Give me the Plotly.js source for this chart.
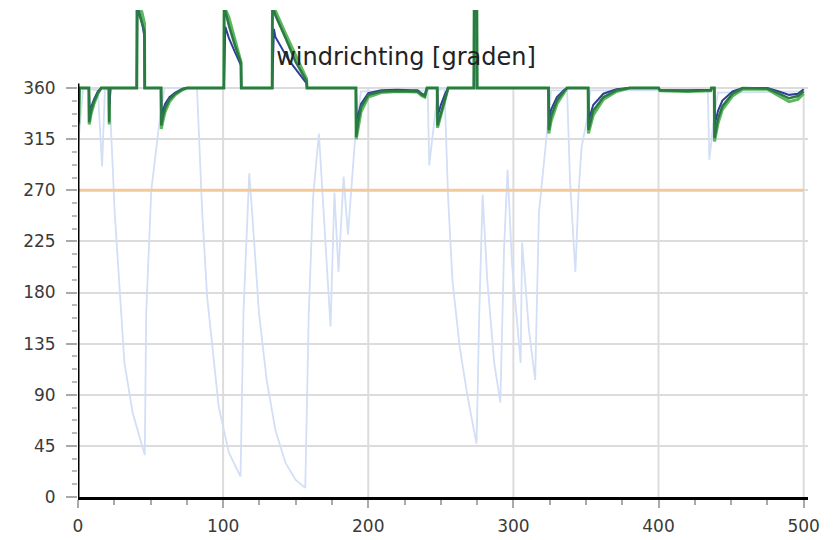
<!DOCTYPE html>
<html>
<head>
<meta charset="utf-8">
<script src="https://cdn.plot.ly/plotly-3.0.1.min.js"></script>
<style>html,body{margin:0;padding:0;background:#fff;}#chart{width:833px;height:540px;}</style>
</head>
<body>
<div id="chart"></div>
<script>
// ---- data ----
const chartTitle = "windrichting [graden]";
const xTickVals = [0, 100, 200, 300, 400, 500];
const xTickText = ["0", "100", "200", "300", "400", "500"];
const yTickVals = [0, 45, 90, 135, 180, 225, 270, 315, 360];
const yTickText = ["0", "45", "90", "135", "180", "225", "270", "315", "360"];
const referenceLevel = 270;
const xStart = 0, xEnd = 500;

// raw wind direction (light blue)
const rawX = [0,3.5,13.7,16.6,18.5,21.5,25.3,28.8,32,37.7,46,47,50.5,56,59.6,82,85.6,89,92.5,97,104,112,114,118,120,124.7,130,136,143,150,156.6,159,162,166,170,174,176.7,179.5,183,186,191,195,241,242,245.6,248,252.5,255,258,263,268.5,274.6,276.5,278.8,282,286.8,291,293.6,296,299,305,306,310.7,315,317.6,323,326,337,339,342.7,345,347,350.7,353,434,435,438.6,441,500];
const rawY = [308,360,358,291,358,360,250,176,118,74,37,162,270,329,360,360,250,176,132,79,39,18,162,285,250,162,103,59,30,15,8,162,264,320,235,150,268,198,282,231,317,357,358,292,332,358,360,264,191,132,88,47,162,266,191,118,83,220,288,206,118,224,147,103,250,323,358,358,279,198,270,308,332,358,358,297,338,356,357];

// light green series
const lgX = [0,0.5,1,7.5,7.7,9,11,13.7,16,21.3,21.5,21.8,40.5,40.7,42,44,45.8,46,57.2,57.4,58.5,60,63,67,72,75,100.5,100.7,104,108,112.3,112.5,133.8,134,136,143,150,157.5,157.8,191.5,191.7,193,195,200,209,220,230,234,237,239,240.5,247.5,247.7,250,253,255,272.8,273,274.8,275,324.2,324.4,326,330,334.7,337,351.5,351.7,355,362,371,380,400,401,420,436,436.5,438.4,438.6,441,444,451,458,475,483,490,496,500];
const lgY = [360,328,360,360,328,337,346,355,360,360,328,360,360,432,432,427,417,360,360,324,331,339,348,354,358.5,360,360,432,422,403,383,360,360,432,428,408,388,368,360,360,315,326,339,352,356,357,356.5,356.5,353,352,360,360,325,335,350,360,360,432,432,360,360,320,331,346,356,360,360,320,336,350,357,360,360,357.5,357,357.5,360,360,313,329,341,353,359,359,353,348,350,355];

// dark blue series
const dbX = [0,1,7.5,8,9,11,13.7,16,21.3,21.6,22.5,40.5,40.8,42,44,45.8,46,57.3,57.6,58.5,60,63,67,72,75,100.5,101.5,104,108,112.3,112.5,133.8,135,136,145,150,157.5,157.8,191.5,192,193,195,200,209,220,230,234,237,239,240.5,247.5,248,250,253,255,272.8,273,274.8,275,324.2,324.6,326,330,334.7,337,351.5,352,355,362,371,380,400,401,420,436,436.5,438.4,438.8,441,444,451,458,475,483,490,496,500];
const dbY = [355,360,360,338,343,350,357,360,360,345,360,360,422,428,418,405,360,360,333,340,346,352,356,359.5,360,360,414,404,392,380,360,360,412,405,385,377,364,360,360,328,336,346,355.5,358,358.5,358,358,355,354,360,360,336,345,355,360,360,432,432,360,360,333,341,352,358,360,360,332,345,355,359,360,360,358,358,358.5,360,360,328,340,349,357,360,360,357,354,355,359];

// dark green series
const dgX = [0,0.5,1,7.5,7.7,9,11,13.7,16,21.3,21.5,21.8,40.5,40.7,42,44,45.8,46,57.2,57.4,58.5,60,63,67,72,75,100.5,100.7,104,108,112.3,112.5,133.8,134,136,143,150,157.5,157.8,191.5,191.7,193,195,200,209,220,230,234,237,239,240.5,247.5,247.7,250,253,255,272.8,273,274.8,275,324.2,324.4,326,330,334.7,337,351.5,351.7,355,362,371,380,400,401,420,436,436.5,438.4,438.6,441,444,451,458,475,483,490,496,500];
const dgY = [360,330,360,360,330,340,348,356,360,360,330,360,360,432,426,418,410,360,360,327,335,342,350,355,359,360,360,432,415,398,382,360,360,432,424,404,383,366,360,360,317,330,343,354,357,357.5,357,357,354,353,360,360,327,338,352,360,360,432,432,360,360,323,335,349,357,360,360,323,340,352,358,360,360,358,357.5,358,360,360,316,333,344,355,360,359.5,355,351,353,357];

// ---- layout helpers (styling only) ----
const yTop = 428.7;
const minorY = [];
for (let v = 0; v <= 360 + 1e-9; v += 11.25) minorY.push(v);

const shapes = [];
xTickVals.slice(1).forEach(v => shapes.push({
  type: 'line', xref: 'x', yref: 'y', x0: v, x1: v, y0: 0, y1: 360,
  line: {color: '#dcdcdc', width: 2}, layer: 'below'
}));
shapes.push({type: 'line', xref: 'x', yref: 'y', x0: xStart, x1: xStart, y0: 0, y1: 364,
  line: {color: '#000', width: 3}, layer: 'above'});

const traces = [
  {x: rawX, y: rawY, mode: 'lines', line: {color: '#d3dff6', width: 1.8}, hoverinfo: 'skip'},
  {x: [xStart, xEnd], y: [referenceLevel, referenceLevel], mode: 'lines', line: {color: '#f3c99c', width: 3}},
  {x: lgX, y: lgY, mode: 'lines', line: {color: '#5cb85c', width: 3}},
  {x: dbX, y: dbY, mode: 'lines', line: {color: '#2f3f96', width: 2}},
  {x: dgX, y: dgY, mode: 'lines', line: {color: '#2b7a45', width: 2.5}}
];

const layout = {
  width: 833, height: 540,
  margin: {l: 78, r: 25, t: 10, b: 43, pad: 0},
  paper_bgcolor: '#fff', plot_bgcolor: '#fff',
  showlegend: false,
  font: {family: 'DejaVu Sans, Arial, sans-serif', size: 17, color: '#3a3a3a'},
  title: {
    text: chartTitle,
    font: {family: 'DejaVu Sans, Arial, sans-serif', size: 24, color: '#222'},
    x: 406 / 833, xref: 'container', xanchor: 'center',
    y: 1 - 57 / 540, yref: 'container', yanchor: 'middle'
  },
  xaxis: {
    range: [xStart, xEnd + 3], showgrid: false, zeroline: false,
    showline: true, linecolor: '#000', linewidth: 3,
    tickmode: 'array', tickvals: xTickVals, ticktext: xTickText,
    ticks: 'outside', ticklen: 8, tickwidth: 2, tickcolor: '#aaa',
    ticklabelstandoff: 4,
    minor: {tickmode: 'linear', tick0: 0, dtick: 25, ticks: 'outside', ticklen: 5, tickwidth: 2, tickcolor: '#aaa', showgrid: false},
    fixedrange: true
  },
  yaxis: {
    range: [0, yTop], showgrid: true, gridcolor: '#dcdcdc', gridwidth: 2,
    zeroline: false, showline: false,
    tickmode: 'array', tickvals: yTickVals, ticktext: yTickText,
    ticks: 'outside', ticklen: 11, tickwidth: 2, tickcolor: '#aaa',
    ticklabelstandoff: 7,
    minor: {tickmode: 'array', tickvals: minorY, ticks: 'outside', ticklen: 5, tickwidth: 2, tickcolor: '#bbb', showgrid: false},
    fixedrange: true
  },
  shapes: shapes
};

Plotly.newPlot('chart', traces, layout, {displayModeBar: false, staticPlot: true});
</script>
</body>
</html>
